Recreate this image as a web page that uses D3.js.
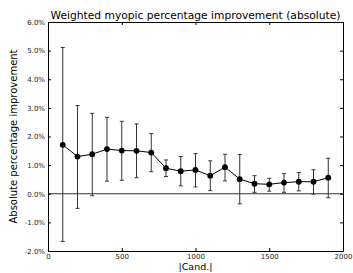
<!DOCTYPE html>
<html>
<head>
<meta charset="utf-8">
<script src="https://cdn.jsdelivr.net/npm/d3@7"></script>
<style>
  body { margin: 0; background: #fff; }
  text { font-family: "DejaVu Sans", sans-serif; }
</style>
</head>
<body>
<div id="chart"></div>
<script>
// candidate counts on the x axis
const cands = [100, 200, 300, 400, 500, 600, 700, 800, 900, 1000,
               1100, 1200, 1300, 1400, 1500, 1600, 1700, 1800, 1900];
// mean improvement (%)
const means = [1.71, 1.30, 1.38, 1.56, 1.51, 1.50, 1.44, 0.89, 0.79, 0.83,
               0.63, 0.93, 0.51, 0.35, 0.33, 0.39, 0.42, 0.42, 0.56];
// error bar top / bottom (%)
const upper = [5.11, 3.08, 2.81, 2.67, 2.53, 2.44, 2.10, 1.18, 1.30, 1.40,
               1.15, 1.38, 1.37, 0.63, 0.54, 0.70, 0.74, 0.84, 1.24];
const lower = [-1.67, -0.51, -0.07, 0.44, 0.47, 0.56, 0.77, 0.60, 0.28, 0.24,
               0.11, 0.45, -0.35, 0.05, 0.09, 0.05, 0.10, -0.01, -0.14];
const xTicks = [0, 500, 1000, 1500, 2000];
const yTicks = [-2, -1, 0, 1, 2, 3, 4, 5, 6];

const W = 353, H = 273;
const margin = { top: 22, right: 10, bottom: 22, left: 48 };
const width = W - margin.left - margin.right;
const height = H - margin.top - margin.bottom;

const svg = d3.select("#chart")
  .append("svg")
  .attr("width", W)
  .attr("height", H);

const g = svg.append("g")
  .attr("transform", `translate(${margin.left},${margin.top})`);

const x = d3.scaleLinear().domain([0, 2000]).range([0, width]);
const y = d3.scaleLinear().domain([-2, 6]).range([height, 0]);

const data = cands.map((c, i) => ({ c, m: means[i], hi: upper[i], lo: lower[i] }));

// zero line
g.append("line")
  .attr("x1", 0).attr("x2", width)
  .attr("y1", y(0)).attr("y2", y(0))
  .attr("stroke", "#333").attr("stroke-width", 1);

// error bars
const eb = g.selectAll(".eb").data(data).enter().append("g").attr("class", "eb")
  .attr("stroke", "#333").attr("stroke-width", 1);
eb.append("line")
  .attr("x1", d => x(d.c)).attr("x2", d => x(d.c))
  .attr("y1", d => y(d.hi)).attr("y2", d => y(d.lo));
eb.append("line")
  .attr("x1", d => x(d.c) - 2).attr("x2", d => x(d.c) + 2)
  .attr("y1", d => y(d.hi)).attr("y2", d => y(d.hi));
eb.append("line")
  .attr("x1", d => x(d.c) - 2).attr("x2", d => x(d.c) + 2)
  .attr("y1", d => y(d.lo)).attr("y2", d => y(d.lo));

// mean line
g.append("path")
  .datum(data)
  .attr("fill", "none")
  .attr("stroke", "#000")
  .attr("stroke-width", 1)
  .attr("d", d3.line().x(d => x(d.c)).y(d => y(d.m)));

g.selectAll(".dot").data(data).enter().append("circle")
  .attr("cx", d => x(d.c)).attr("cy", d => y(d.m))
  .attr("r", 2.9).attr("fill", "#000");

// axes, ticks pointing inward on every side
const fmt = d => d.toFixed(1) + "%";
const styleAxis = sel => {
  sel.select(".domain").attr("stroke", "#000");
  sel.selectAll(".tick line").attr("stroke", "#000");
  sel.selectAll(".tick text").attr("fill", "#222").style("font-size", "7px")
    .style("font-family", "DejaVu Sans");
};

g.append("g")
  .attr("transform", `translate(0,${height})`)
  .call(d3.axisBottom(x).tickValues(xTicks).tickSize(-3).tickPadding(3)
    .tickFormat(d3.format("d")).tickSizeOuter(0))
  .call(styleAxis);
g.append("g")
  .call(d3.axisTop(x).tickValues(xTicks).tickSize(-3).tickFormat("").tickSizeOuter(0))
  .call(styleAxis);
g.append("g")
  .call(d3.axisLeft(y).tickValues(yTicks).tickSize(-3).tickPadding(3).tickFormat(fmt).tickSizeOuter(0))
  .call(styleAxis);
g.append("g")
  .attr("transform", `translate(${width},0)`)
  .call(d3.axisRight(y).tickValues(yTicks).tickSize(-3).tickFormat("").tickSizeOuter(0))
  .call(styleAxis);

// title and labels
svg.append("text")
  .attr("x", margin.left + width / 2).attr("y", 19)
  .attr("text-anchor", "middle")
  .style("font-size", "10.7px").attr("fill", "#000")
  .text("Weighted myopic percentage improvement (absolute)");

svg.append("text")
  .attr("x", margin.left + width / 2).attr("y", 270)
  .attr("text-anchor", "middle")
  .style("font-size", "9.5px").attr("fill", "#000")
  .text("|Cand.|");

svg.append("text")
  .attr("transform", `translate(17,${margin.top + height / 2}) rotate(-90)`)
  .attr("text-anchor", "middle")
  .style("font-size", "10px").attr("fill", "#000")
  .text("Absolute percentage improvement");
</script>
</body>
</html>
